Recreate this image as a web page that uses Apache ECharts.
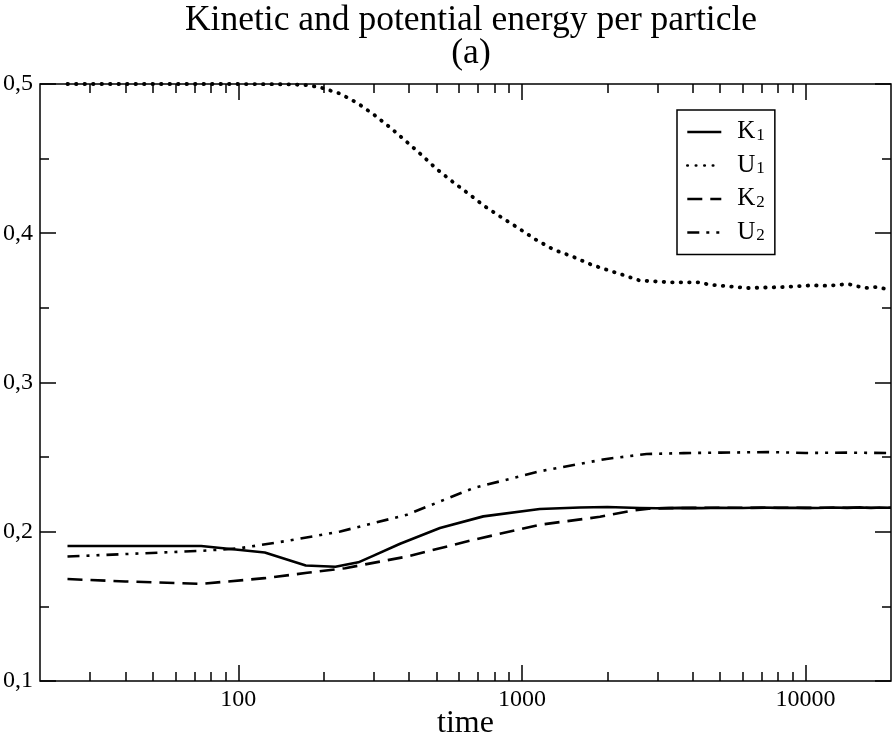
<!DOCTYPE html>
<html><head><meta charset="utf-8">
<script src="https://cdn.jsdelivr.net/npm/echarts@6/dist/echarts.min.js"></script>
<style>html,body{margin:0;padding:0;background:#fff}#c{width:893px;height:738px}</style>
</head><body><div id="c"></div>
<script>
// ---- data (time, energy per particle) ----
const seriesNames = ['K1', 'U1', 'K2', 'U2'];

const k1Data = [[25,0.1905],[40,0.1905],[74,0.1905],[124,0.1861],[173,0.1774],[220,0.1765],[265,0.1795],[300,0.1840],[372,0.1920],[514,0.2025],[731,0.2103],[1156,0.2152],[1600,0.2162],[2000,0.2166],[2600,0.2159],[3000,0.2157],[3600,0.2160],[4300,0.2158],[5000,0.2161],[6000,0.2159],[7000,0.2162],[8000,0.2160],[9500,0.2161],[11000,0.2159],[12500,0.2162],[14000,0.2160],[15500,0.2163],[17000,0.2159],[18500,0.2162],[20000,0.2161]];

const u1Data = [[25,0.5],[60,0.5],[100,0.5],[150,0.4998],[175,0.4992],[194,0.4978],[229,0.4935],[264,0.4870],[303,0.4790],[345,0.4705],[391,0.4615],[442,0.4526],[499,0.4432],[568,0.4347],[649,0.4264],[739,0.4181],[849,0.4105],[976,0.4032],[1117,0.3958],[1294,0.3890],[1508,0.3844],[1754,0.3790],[2052,0.3747],[2213,0.3728],[2603,0.3683],[3333,0.3671],[4259,0.3671],[4550,0.3656],[6233,0.3633],[8408,0.3640],[10450,0.3651],[12000,0.3648],[14090,0.3660],[16130,0.3633],[18000,0.3640],[19540,0.3622]];

const k2Data = [[25,0.1683],[40,0.1667],[74,0.1651],[124,0.1689],[175,0.1725],[238,0.1756],[393,0.1834],[675,0.1946],[1156,0.2047],[1884,0.2100],[2472,0.2143],[2800,0.2155],[3300,0.2158],[4000,0.2160],[5000,0.2161],[6500,0.2160],[8000,0.2161],[10000,0.2160],[13000,0.2161],[16000,0.2161],[20000,0.2161]];

const u2Data = [[25,0.1834],[74,0.1872],[100,0.1888],[150,0.1940],[229,0.2002],[393,0.2114],[675,0.2293],[1156,0.2405],[1985,0.2488],[2750,0.2521],[3717,0.2527],[5000,0.2530],[7346,0.2534],[10000,0.2528],[14000,0.2530],[20000,0.2527]];

const xMajorTicks = [100, 1000, 10000];
const xMinorTicks = [30,40,50,60,70,80,90,200,300,400,500,600,700,800,900,2000,3000,4000,5000,6000,7000,8000,9000];
const yMajorTicks = [0.1, 0.2, 0.3, 0.4, 0.5];
const yMinorTicks = [0.15, 0.25, 0.35, 0.45];

const serif = 'Liberation Serif';
const chart = echarts.init(document.getElementById('c'), null, {renderer: 'canvas'});

function xAxisDef(pos, ticks, len, labels) {
  return {
    type: 'log', logBase: 10, min: 20, max: 20000, position: pos, gridIndex: 0,
    axisLine: {show: false},
    axisTick: {show: true, inside: true, length: len, customValues: ticks, lineStyle: {color: '#000', width: 1.5}},
    axisLabel: labels ? {show: true, customValues: xMajorTicks, color: '#000', fontFamily: serif, fontSize: 24, margin: 7, formatter: v => String(Math.round(v))} : {show: false},
    splitLine: {show: false}, minorTick: {show: false}
  };
}
function yAxisDef(pos, ticks, len, labels) {
  return {
    type: 'value', min: 0.1, max: 0.5, position: pos, gridIndex: 0,
    axisLine: {show: false},
    axisTick: {show: true, inside: true, length: len, customValues: ticks, lineStyle: {color: '#000', width: 1.5}},
    axisLabel: labels ? {show: true, customValues: yMajorTicks, color: '#000', fontFamily: serif, fontSize: 24, margin: 7, formatter: v => v.toFixed(1).replace('.', ',')} : {show: false},
    splitLine: {show: false}
  };
}

const xs = [xAxisDef('bottom', xMajorTicks, 16, true), xAxisDef('bottom', xMinorTicks, 9, false),
            xAxisDef('top', xMajorTicks, 16, false), xAxisDef('top', xMinorTicks, 9, false)];
xs[0].name = 'time';
xs[0].nameLocation = 'middle';
xs[0].nameGap = 27;
xs[0].nameMoveOverlap = false;
xs[0].nameTextStyle = {color: '#000', fontFamily: serif, fontSize: 32, verticalAlign: 'top'};

const ys = [yAxisDef('left', yMajorTicks, 16, true), yAxisDef('left', yMinorTicks, 9, false),
            yAxisDef('right', yMajorTicks, 16, false), yAxisDef('right', yMinorTicks, 9, false)];

const styles = {
  K1: {width: 2.6, type: 'solid', cap: 'butt'},
  U1: {width: 3.8, type: [0.5, 8], cap: 'round'},
  K2: {width: 2.6, type: [15, 8], cap: 'butt'},
  U2: {width: 2.6, type: [12, 7, 3, 7, 3, 7], cap: 'butt'}
};
const dataMap = {K1: k1Data, U1: u1Data, K2: k2Data, U2: u2Data};

chart.setOption({
  animation: false,
  backgroundColor: '#fff',
  title: [
    {text: 'Kinetic and potential energy per particle', left: 466, top: -2, textAlign: 'center',
     textStyle: {color: '#000', fontFamily: serif, fontSize: 35.5, fontWeight: 'normal'}},
    {text: '(a)', left: 466, top: 31, textAlign: 'center',
     textStyle: {color: '#000', fontFamily: serif, fontSize: 35.5, fontWeight: 'normal'}}
  ],
  grid: {left: 40, right: 2, top: 84, bottom: 57, show: true, borderColor: '#000', borderWidth: 1.5,
         backgroundColor: 'transparent', outerBoundsMode: 'none', containLabel: false},
  xAxis: xs,
  yAxis: ys,
  legend: {
    data: seriesNames,
    orient: 'vertical', left: 677, top: 110,
    padding: [3, 10, 10, 9],
    itemWidth: 34, itemHeight: 12, itemGap: 2.5,
    backgroundColor: '#fff', borderColor: '#000', borderWidth: 1.5,
    itemStyle: {color: 'rgba(0,0,0,0)', borderColor: 'rgba(0,0,0,0)', borderWidth: 0},
    lineStyle: {width: 2.6, color: '#000'},
    formatter: n => '{m|' + n[0] + '}{s|' + n[1] + '}',
    textStyle: {
      color: '#000', fontFamily: serif, padding: [0, 0, 0, 11],
      rich: {
        m: {fontFamily: serif, fontSize: 25, lineHeight: 24, color: '#000', verticalAlign: 'bottom', padding: [6, 0, 0, 0]},
        s: {fontFamily: serif, fontSize: 17, lineHeight: 12, color: '#000', verticalAlign: 'bottom', padding: [0, 0, 0, 1]}
      }
    }
  },
  series: seriesNames.map(n => ({
    name: n, type: 'line', xAxisIndex: 0, yAxisIndex: 0,
    data: dataMap[n], symbol: 'none', smooth: false,
    lineStyle: {color: '#000', width: styles[n].width, type: styles[n].type, cap: styles[n].cap, join: 'round'},
    itemStyle: {color: '#000'}
  }))
});
</script>
</body></html>
